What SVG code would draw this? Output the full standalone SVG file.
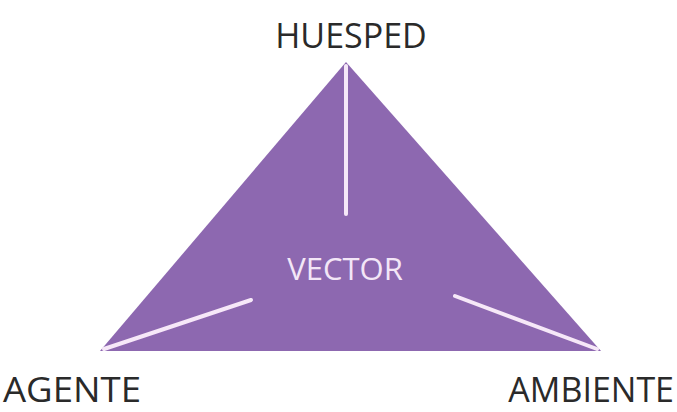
<svg xmlns="http://www.w3.org/2000/svg" width="677" height="412" viewBox="0 0 677 412">
<style>
.lbl{font-family:"Open Sans","Liberation Sans",sans-serif;fill:#2a2a2a}
.ln{stroke:#f6e8f8;stroke-width:4;stroke-linecap:round;fill:none}
</style>
<rect width="677" height="412" fill="#ffffff"/>
<g id="triangle">
<polygon points="346,62 100,351 601,351" fill="#8d68b0"/>
<text x="345" y="280" text-anchor="middle" font-size="31" class="lbl" style="fill:#f3e6f7">VECTOR</text>
</g>
<g id="connectors">
<line class="ln" x1="346" y1="66" x2="346" y2="214"/>
<line class="ln" x1="104" y1="349" x2="251" y2="300"/>
<line class="ln" x1="455" y1="296" x2="597" y2="349"/>
</g>
<g id="huesped"><text x="351" y="48" text-anchor="middle" font-size="34" class="lbl">HUESPED</text></g>
<g id="agente"><text x="3" y="402" font-size="34" textLength="138" lengthAdjust="spacingAndGlyphs" class="lbl">AGENTE</text></g>
<g id="ambiente"><text x="674" y="402" text-anchor="end" font-size="34" class="lbl">AMBIENTE</text></g>
</svg>
